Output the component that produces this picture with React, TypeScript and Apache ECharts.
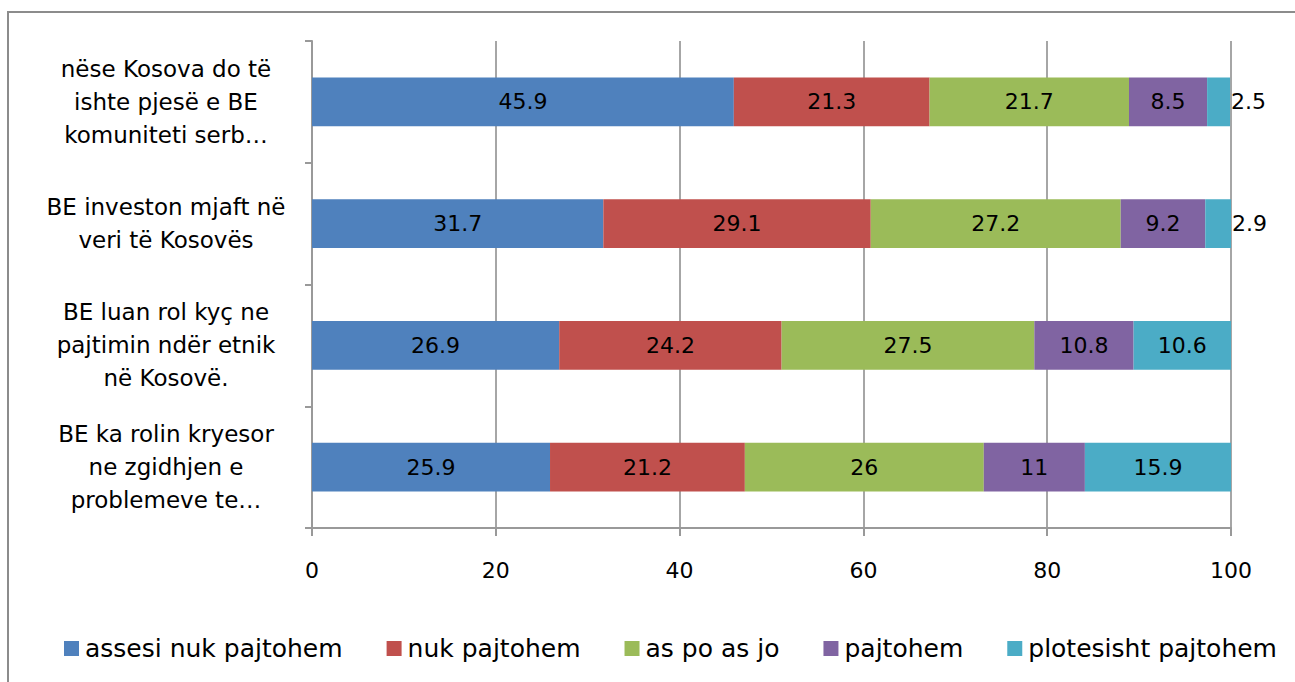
import React, { useEffect, useRef } from "react";
import * as echarts from "echarts";

const categories = [
  "nëse Kosova do të\nishte pjesë e BE\nkomuniteti serb…",
  "BE investon mjaft në\nveri të Kosovës",
  "BE luan rol kyç ne\npajtimin ndër etnik\nnë Kosovë.",
  "BE ka rolin kryesor\nne zgidhjen e\nproblemeve te…",
];
const seriesNames = [
  "assesi nuk pajtohem",
  "nuk pajtohem",
  "as po as jo",
  "pajtohem",
  "plotesisht pajtohem",
];
const assesi = [45.9, 31.7, 26.9, 25.9];
const nuk = [21.3, 29.1, 24.2, 21.2];
const asPo = [21.7, 27.2, 27.5, 26];
const pajtohem = [8.5, 9.2, 10.8, 11];
const plotesisht = [2.5, 2.9, 10.6, 15.9];
const xTicks = [0, 20, 40, 60, 80, 100];

const colors = ["#4F81BD", "#C0504D", "#9BBB59", "#8064A2", "#4BACC6"];
const FONT = "DejaVu Sans";

export default function App() {
  const ref = useRef<HTMLDivElement>(null);
  useEffect(() => {
    if (!ref.current) return;
    const chart = echarts.init(ref.current, null, { renderer: "svg" });
    const allData = [assesi, nuk, asPo, pajtohem, plotesisht];
    const series = allData.map((vals, i) => ({
      name: seriesNames[i],
      type: "bar",
      stack: "total",
      barCategoryGap: "60%",
      itemStyle: { color: colors[i] },
      label: {
        show: true,
        position: "inside",
        color: "#000",
        fontSize: 22,
        fontFamily: FONT,
      },
      data: vals.map((v) =>
        i === 4 && v < 5
          ? { value: v, label: { position: "right", distance: 1 } }
          : { value: v }
      ),
    }));
    chart.setOption({
      animation: false,
      textStyle: { fontFamily: FONT },
      graphic: [
        {
          type: "rect",
          shape: { x: 8, y: 12, width: 1400, height: 800 },
          style: { fill: "none", stroke: "#8c8c8c", lineWidth: 2 },
          silent: true,
        },
      ],
      grid: { left: 312, right: 64, top: 41, bottom: 154 },
      legend: {
        left: 59,
        top: 631,
        itemWidth: 15,
        itemHeight: 15,
        itemGap: 44,
        icon: "rect",
        textStyle: { fontSize: 25, color: "#000", fontFamily: FONT, padding: [0, 0, 0, 1] },
        data: seriesNames,
      },
      xAxis: {
        type: "value",
        min: xTicks[0],
        max: xTicks[xTicks.length - 1],
        interval: 20,
        axisLine: { show: true, lineStyle: { color: "#999", width: 2 } },
        axisTick: { show: true, length: 8, lineStyle: { color: "#999", width: 2 } },
        splitLine: { show: true, lineStyle: { color: "#a6a6a6", width: 2 } },
        axisLabel: { color: "#000", fontSize: 22, margin: 31, fontFamily: FONT },
      },
      yAxis: {
        type: "category",
        inverse: true,
        data: categories,
        axisLine: { show: true, lineStyle: { color: "#999", width: 2 } },
        axisTick: { show: true, length: 7, lineStyle: { color: "#999", width: 2 } },
        axisLabel: {
          color: "#000",
          fontSize: 23,
          lineHeight: 33,
          align: "center",
          margin: 146,
          fontFamily: FONT,
        },
      },
      series,
    });
    return () => chart.dispose();
  }, []);
  return (
    <div
      ref={ref}
      style={{ position: "fixed", left: 0, top: 0, width: 1295, height: 682, background: "#fff" }}
    />
  );
}
